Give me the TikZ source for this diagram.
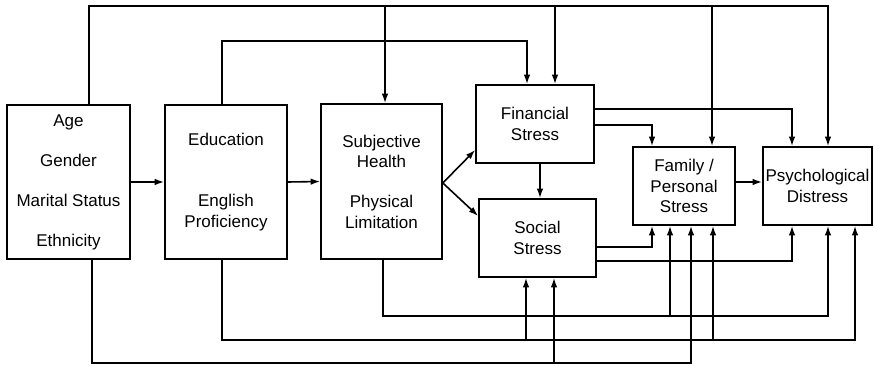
\documentclass[tikz,border=0pt]{standalone}
\usepackage{fontspec}
\setmainfont{Liberation Sans}
\usetikzlibrary{arrows.meta}
\begin{document}
\begin{tikzpicture}[x=1pt,y=-1pt,
  box/.style={draw,line width=1.6pt,inner sep=0pt,align=center,
    font=\fontsize{17}{20.5}\selectfont},
  link/.style={line width=1.6pt,line join=miter},
  arr/.style={link,-{Latex[length=9.5pt,width=6.5pt]}}]
\useasboundingbox (0,0) rectangle (874,366);
% boxes
\node[box,minimum width=123pt,minimum height=154pt] (age) at (68.5,182)
  {Age\\[19.5pt]Gender\\[19.5pt]Marital Status\\[19.5pt]Ethnicity};
\node[box,minimum width=122pt,minimum height=154pt] (edu) at (226,182)
  {Education\\[40.5pt]English\\Proficiency};
\node[box,minimum width=121pt,minimum height=155pt] (sh) at (381.5,181.5)
  {Subjective\\Health\\[19.5pt]Physical\\Limitation};
\node[box,minimum width=118pt,minimum height=78pt] (fin) at (535,124)
  {Financial\\Stress};
\node[box,minimum width=117pt,minimum height=78pt] (soc) at (537.5,238)
  {\raisebox{-4pt}{\parbox{110pt}{\centering Social\\Stress}}};
\node[box,minimum width=102pt,minimum height=78pt] (fam) at (684,186)
  {\raisebox{-2pt}{\parbox{100pt}{\centering Family /\\Personal\\Stress}}};
\node[box,minimum width=109pt,minimum height=78pt] (psy) at (817.5,186)
  {Psychological\\Distress};
% horizontal flow
\draw[arr] (age.east) -- (edu.west);
\draw[arr] (edu.east) -- (sh.west);
\draw[arr] (sh.east |- 0,183) -- (fin.west |- 0,150);
\draw[arr] (sh.east |- 0,183) -- (soc.west |- 0,216);
\draw[arr] (fin.south -| 540,0) -- (soc.north -| 540,0);
\draw[arr] (fam.east |- 0,182) -- (psy.west |- 0,182);
% top bus from age
\draw[arr] (age.north -| 89,0) -- (89,6) -- (828,6) -- (psy.north -| 828,0);
\draw[arr] (385,6) -- (sh.north -| 385,0);
\draw[arr] (555,6) -- (fin.north -| 555,0);
\draw[arr] (712,6) -- (fam.north -| 712,0);
% top bus from education
\draw[arr] (edu.north -| 222,0) -- (222,41) -- (527,41) -- (fin.north -| 527,0);
% from financial
\draw[arr] (fin.east |- 0,109) -- (792,109) -- (psy.north -| 792,0);
\draw[arr] (fin.east |- 0,125) -- (652,125) -- (fam.north -| 652,0);
% from social
\draw[arr] (soc.east |- 0,247) -- (652,247) -- (fam.south -| 652,0);
\draw[arr] (soc.east |- 0,261) -- (792,261) -- (psy.south -| 792,0);
% bottom bus from subjective health
\draw[arr] (sh.south -| 383,0) -- (383,316) -- (828,316) -- (psy.south -| 828,0);
\draw[arr] (670,316) -- (fam.south -| 670,0);
% bottom bus from education
\draw[arr] (edu.south -| 222,0) -- (222,340) -- (855,340) -- (psy.south -| 855,0);
\draw[arr] (526,340) -- (soc.south -| 526,0);
\draw[arr] (713,340) -- (fam.south -| 713,0);
% bottom bus from age
\draw[arr] (age.south -| 92,0) -- (92,363) -- (691,363) -- (fam.south -| 691,0);
\draw[arr] (554,363) -- (soc.south -| 554,0);
\end{tikzpicture}
\end{document}
